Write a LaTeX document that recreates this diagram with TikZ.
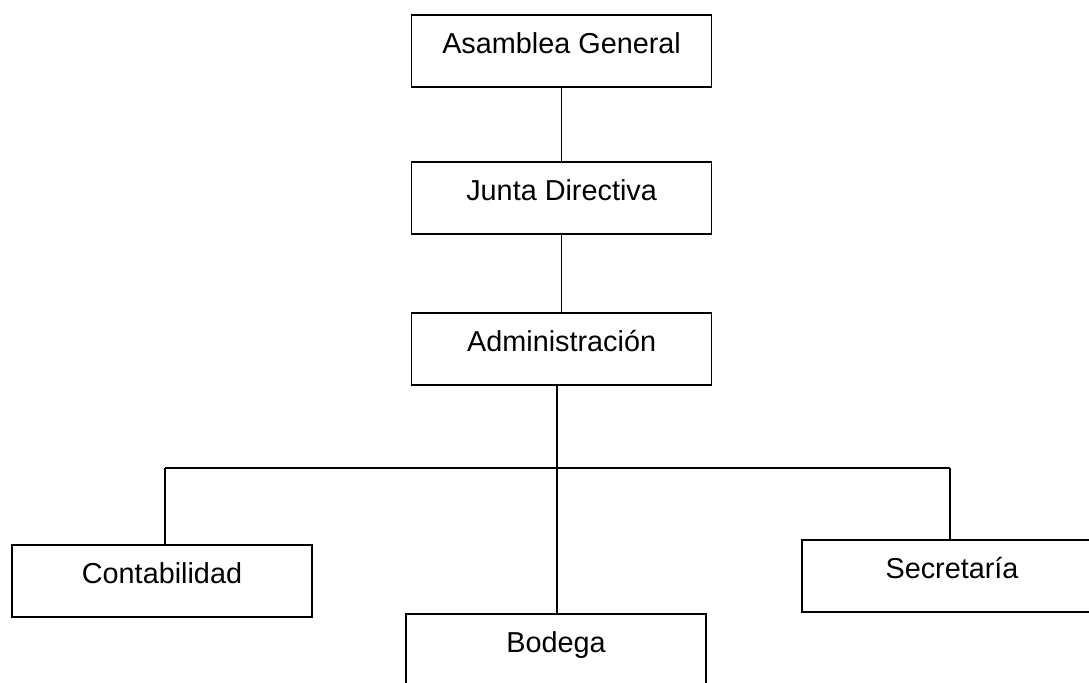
\documentclass[tikz,border=0pt]{standalone}
\usepackage{fontspec}
\setmainfont{Liberation Sans}
\usetikzlibrary{backgrounds}
\pgfdeclarelayer{edgelayer}
\pgfdeclarelayer{nodelayer}
\pgfsetlayers{edgelayer,nodelayer,main}
\tikzset{font=\fontsize{20.5}{24}\selectfont}
\tikzstyle{none}=[inner sep=0pt]
\tikzstyle{box}=[draw,line width=1pt,fill=white,minimum width=7.5cm,inner xsep=0pt,inner ysep=0pt,text height=0.95cm,text depth=0.85cm]
\tikzstyle{wire}=[line width=1pt]

\begin{document}
\begin{tikzpicture}
	\useasboundingbox (0,0) rectangle (27.225,-17.05);
	\clip (0,0) rectangle (27.225,-17.05);
	\begin{pgfonlayer}{nodelayer}
		\node [style=box] (0) at (14.04, -1.275) {Asamblea General};
		\node [style=box] (1) at (14.04, -4.95) {Junta Directiva};
		\node [style=box] (2) at (14.04, -8.725) {Administración};
		\node [style=box] (3) at (4.05, -14.525) {Contabilidad};
		\node [style=box] (4) at (13.9, -16.25) {Bodega};
		\node [style=box] (5) at (23.8, -14.4) {Secretaría};
		\node [style=none] (6) at (13.92, -11.7) {};
		\node [style=none] (7) at (4.12, -11.7) {};
		\node [style=none] (8) at (23.75, -11.7) {};
	\end{pgfonlayer}
	\begin{pgfonlayer}{edgelayer}
		\draw[style=wire] (0) to (1);
		\draw[style=wire] (1) to (2);
		\draw[style=wire] (2.south -| 6) to (6.center);
		\draw[style=wire] (7.center) to (8.center);
		\draw[style=wire] (7.center) to (3.north -| 7);
		\draw[style=wire] (6.center) to (4.north -| 6);
		\draw[style=wire] (8.center) to (5.north -| 8);
	\end{pgfonlayer}
\end{tikzpicture}
\end{document}
